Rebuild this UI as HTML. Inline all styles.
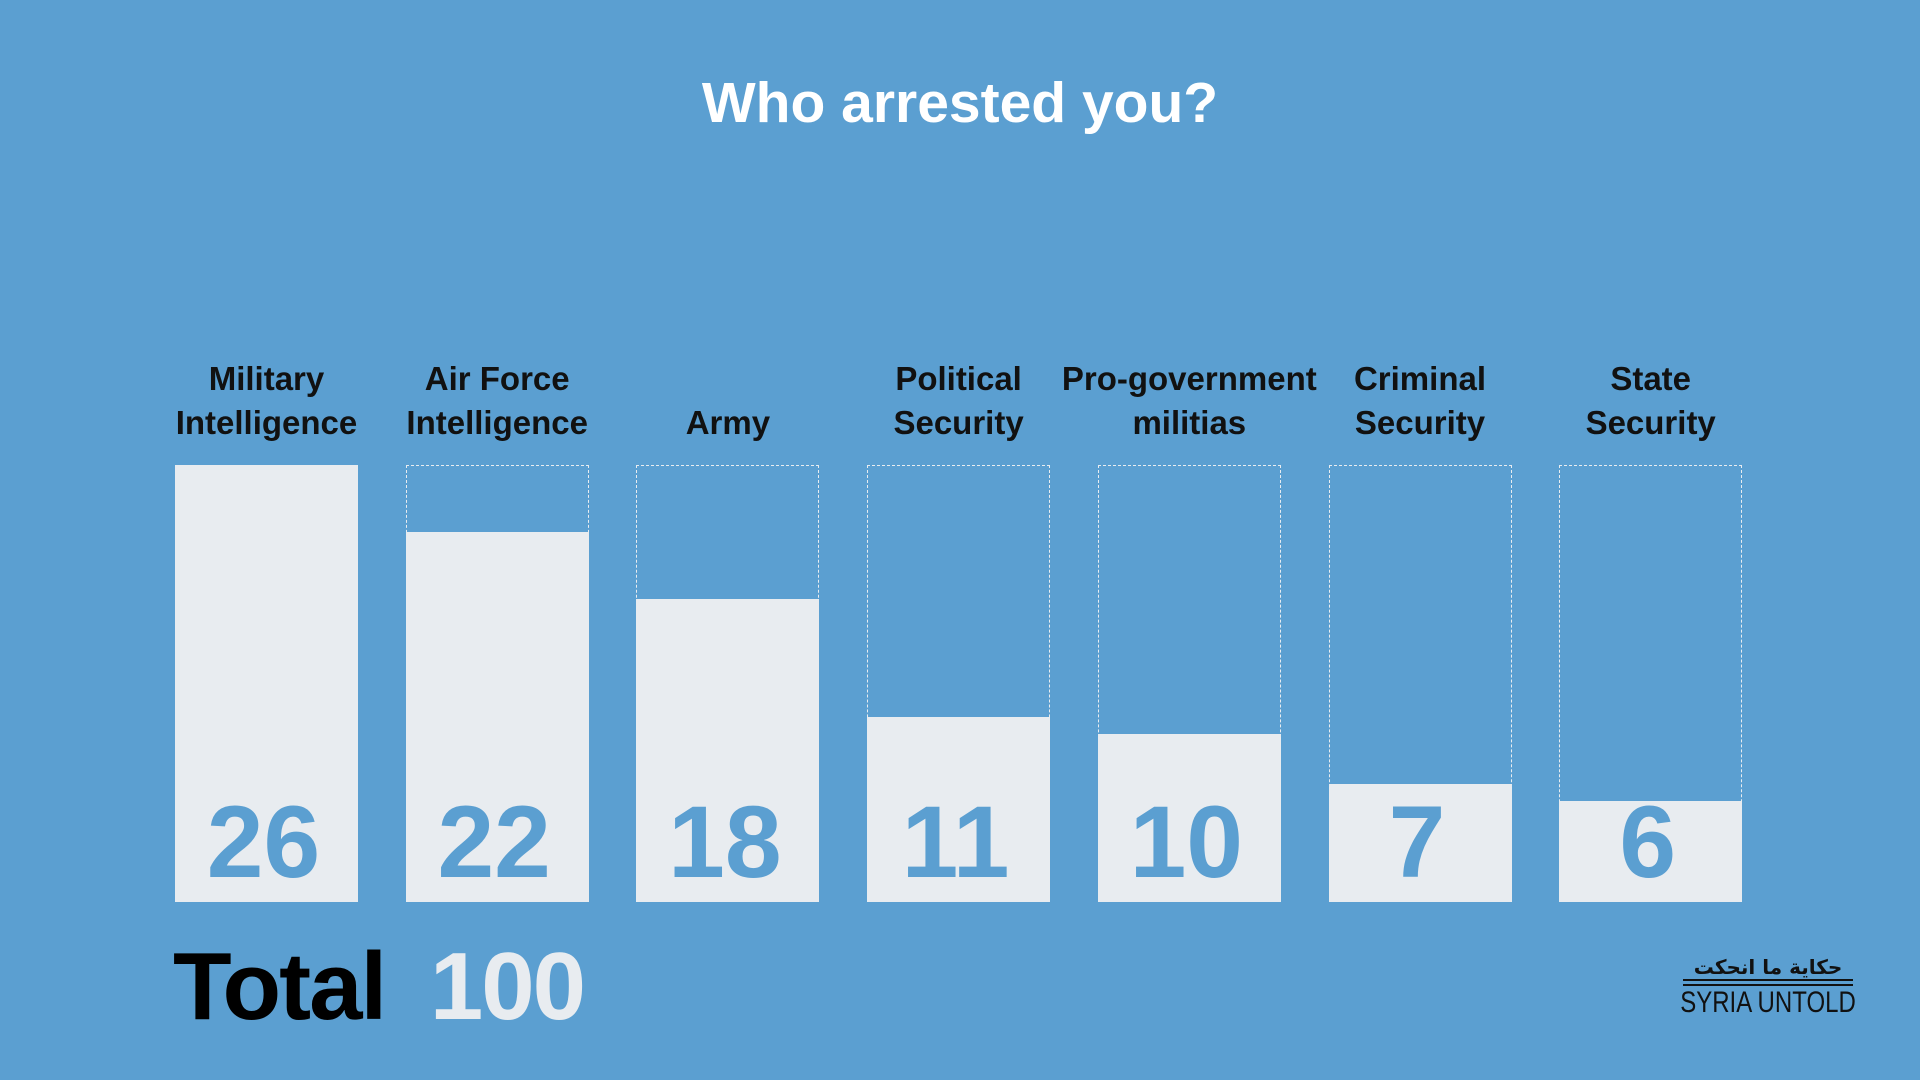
<!DOCTYPE html>
<html><head><meta charset="utf-8"><style>
body{margin:0;width:1920px;height:1080px;background:#5b9fd1;overflow:hidden;font-family:"Liberation Sans",sans-serif;position:relative}
.t{position:absolute;left:0;width:1920px;text-align:center;top:70px;font-size:57px;font-weight:bold;color:#fff}
.lab{position:absolute;width:300px;text-align:center;font-size:33px;font-weight:bold;color:#111;line-height:44px;white-space:nowrap}
.frame{position:absolute;border:1.5px dashed #e8ecf0;box-sizing:border-box}
.bar{position:absolute;background:#e8ecf0}
.num{position:absolute;text-align:center;font-size:102px;font-weight:bold;color:#5b9fd1;line-height:1}
</style></head><body>
<div class="t">Who arrested you?</div>
<div id="chart"></div>
<div style="position:absolute;left:173px;top:932px;font-size:96px;font-weight:bold;color:#000;letter-spacing:-2px;white-space:nowrap">Total <span style="color:#e8ecf0;margin-left:20px">100</span></div>
<div style="position:absolute;left:1683px;top:955px;width:170px;color:#111;white-space:nowrap;text-align:center">
<div style="font-family:'DejaVu Sans',sans-serif;font-size:20px;font-weight:bold;line-height:24px;border-bottom:2px solid #111">حكاية ما انحكت</div>
<div style="border-top:2px solid #111;margin-top:3px;height:34px;position:relative"><span style="position:absolute;left:50%;top:0;font-size:30px;line-height:34px;transform:translateX(-50%) scaleX(0.8)">SYRIA UNTOLD</span></div>
</div>
<script>
const categories=[["Military","Intelligence"],["Air Force","Intelligence"],["","Army"],["Political","Security"],["Pro-government","militias"],["Criminal","Security"],["State","Security"]];
const values=[26,22,18,11,10,7,6];
const maxVal=26;
const c=document.getElementById('chart');
const x0=175,step=230.7,w=183,top0=465,bot=902;
const ys=v=>(bot-top0)*v/maxVal;
values.forEach((v,i)=>{
 const x=x0+i*step;
 const f=document.createElement('div');f.className='frame';
 
 
 f.style.cssText=`left:${x}px;top:${top0}px;width:${w}px;height:${bot-top0}px`;c.appendChild(f);
 const b=document.createElement('div');b.className='bar';
 
 
 const h=ys(v);b.style.cssText=`left:${x}px;top:${bot-h}px;width:${w}px;height:${h}px`;c.appendChild(b);
 const n=document.createElement('div');n.className='num';
 
 
 n.textContent=v;n.style.cssText=`left:${x-3}px;top:${791}px;width:${w}px`;c.appendChild(n);
 const l=document.createElement('div');l.className='lab';
 
 
 l.innerHTML=categories[i][0]+'<br>'+categories[i][1];
 l.style.cssText=`left:${x+w/2-150}px;top:357px`;c.appendChild(l);
});
</script>
</body></html>
